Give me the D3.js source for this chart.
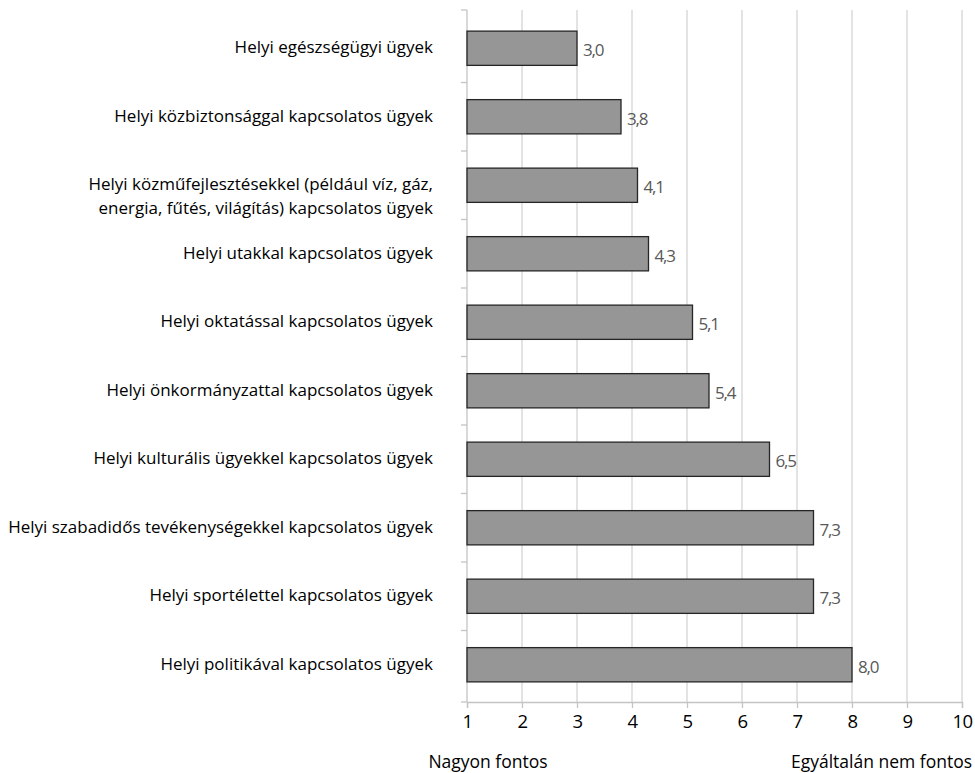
<!DOCTYPE html>
<html>
<head>
<meta charset="utf-8">
<script src="https://cdn.jsdelivr.net/npm/d3@7"></script>
<style>
  body { margin: 0; background: #fff; }
  svg text { font-family: "Open Sans", "Noto Sans", sans-serif; }
</style>
</head>
<body>
<svg></svg>
<script>
var screen = {width:975,height:773}

// categories, top to bottom (multi-line labels split with "\n")
var categories = [
    "Helyi egészségügyi ügyek",
    "Helyi közbiztonsággal kapcsolatos ügyek",
    "Helyi közműfejlesztésekkel (például víz, gáz,\nenergia, fűtés, világítás) kapcsolatos ügyek",
    "Helyi utakkal kapcsolatos ügyek",
    "Helyi oktatással kapcsolatos ügyek",
    "Helyi önkormányzattal kapcsolatos ügyek",
    "Helyi kulturális ügyekkel kapcsolatos ügyek",
    "Helyi szabadidős tevékenységekkel kapcsolatos ügyek",
    "Helyi sportélettel kapcsolatos ügyek",
    "Helyi politikával kapcsolatos ügyek"
]
var values = [3.0, 3.8, 4.1, 4.3, 5.1, 5.4, 6.5, 7.3, 7.3, 8.0]
var xTicks = [1,2,3,4,5,6,7,8,9,10]
var endLabels = ["Nagyon fontos", "Egyáltalán nem fontos"]

var svg = d3.select("svg")
    .attr("width",screen.width)
    .attr("height",screen.height)

var plot = {left:467, right:962, top:10, bottom:702}

var xScale = d3.scaleLinear()
    .domain([1,10])
    .range([plot.left,plot.right])

var yScale = d3.scaleBand()
    .domain(categories)
    .range([14,699])
    .paddingInner(0.5)
    .paddingOuter(0.25)

var fmt = function(v){ return d3.format(".1f")(v).replace(".",",") }

// vertical gridlines
svg.append("g")
    .selectAll("line")
    .data(xTicks.slice(1))
    .enter()
    .append("line")
    .attr("x1",function(d){return xScale(d)})
    .attr("x2",function(d){return xScale(d)})
    .attr("y1",plot.top)
    .attr("y2",plot.bottom)
    .attr("stroke","#d4d4d4")
    .attr("stroke-width",1.3)

// x axis
var xAxis = d3.axisBottom(xScale)
    .tickValues(xTicks)
    .tickSize(6)
    .tickPadding(7)
    .tickFormat(d3.format("d"))

svg.append("g")
    .attr("id","xAxis")
    .attr("transform","translate(0,"+plot.bottom+")")
    .attr("font-size",null)
    .attr("font-family",null)
    .call(xAxis)
    .call(function(g){
        g.attr("font-size",null).attr("font-family",null)
        g.select(".domain").attr("stroke","#c4c4c4").attr("stroke-width",1.3)
        g.selectAll(".tick line").attr("stroke","#c4c4c4").attr("stroke-width",1.3)
        g.selectAll(".tick text")
            .attr("fill","#000")
            .style("font-size","18.5px")
            .style("letter-spacing","-0.5px")
    })

// y axis line with ticks between the categories
svg.append("line")
    .attr("x1",plot.left).attr("x2",plot.left)
    .attr("y1",plot.top).attr("y2",plot.bottom)
    .attr("stroke","#c4c4c4")
    .attr("stroke-width",1.3)

var boundaries = categories.slice(1).map(function(c){
    return yScale(c) - yScale.step()*yScale.paddingInner()/2
})
boundaries.unshift(plot.top)
boundaries.push(plot.bottom)

svg.append("g")
    .selectAll("line")
    .data(boundaries)
    .enter()
    .append("line")
    .attr("x1",plot.left-6).attr("x2",plot.left)
    .attr("y1",function(d){return d}).attr("y2",function(d){return d})
    .attr("stroke","#c4c4c4")
    .attr("stroke-width",1.3)

// bars
svg.append("g")
    .attr("id","bars")
    .selectAll("rect")
    .data(values)
    .enter()
    .append("rect")
    .attr("x",xScale(1))
    .attr("y",function(v,i){return yScale(categories[i])})
    .attr("width",function(v){return xScale(v)-xScale(1)})
    .attr("height",yScale.bandwidth())
    .attr("fill","#969696")
    .attr("stroke","#262626")
    .attr("stroke-width",1.3)

// value labels
svg.append("g")
    .selectAll("text")
    .data(values)
    .enter()
    .append("text")
    .attr("x",function(v){return xScale(v)+6})
    .attr("y",function(v,i){return yScale(categories[i])+yScale.bandwidth()/2+2})
    .attr("dy","0.35em")
    .attr("fill","#595959")
    .style("font-size","17px")
    .style("letter-spacing","-1.2px")
    .text(fmt)

// category labels
var labels = svg.append("g")
    .selectAll("text")
    .data(categories)
    .enter()
    .append("text")
    .attr("text-anchor","end")
    .attr("fill","#000")
    .style("font-size","17px")
    .attr("y",function(c){return yScale(c)+yScale.bandwidth()/2-1})

labels.selectAll("tspan")
    .data(function(c){return c.split("\n")})
    .enter()
    .append("tspan")
    .attr("x",433)
    .attr("dy",function(d,i){return i==0 ? "0.35em" : "1.4em"})
    .text(function(d){return d})

// end labels under the axis
svg.append("text")
    .attr("x",488)
    .attr("y",762)
    .attr("dy","0.35em")
    .attr("text-anchor","middle")
    .style("font-size","17.5px")
    .text(endLabels[0])

svg.append("text")
    .attr("x",972)
    .attr("y",762)
    .attr("dy","0.35em")
    .attr("text-anchor","end")
    .style("font-size","17.5px")
    .text(endLabels[1])
</script>
</body>
</html>
